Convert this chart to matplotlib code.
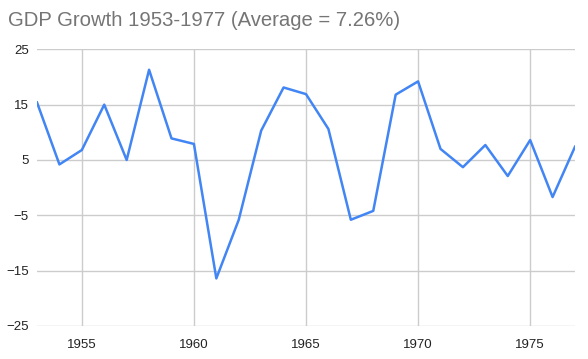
import matplotlib.pyplot as plt

years = list(range(1953, 1978))
growth = [15.4, 4.2, 6.8, 15.0, 5.0, 21.3, 8.9, 7.9, -16.4, -5.8, 10.3, 18.1, 16.9,
          10.6, -5.8, -4.2, 16.8, 19.2, 7.0, 3.7, 7.7, 2.1, 8.6, -1.7, 7.4]
yticks = [-25, -15, -5, 5, 15, 25]
xticks = [1955, 1960, 1965, 1970, 1975]

plt.rcParams['font.family'] = ['Liberation Sans', 'DejaVu Sans']

fig = plt.figure(figsize=(5.88, 3.59), dpi=100)
ax = fig.add_axes([37 / 588, 1 - 326 / 359, (575 - 37) / 588, (326 - 49.3) / 359])

ax.plot(years, growth, color='#4285F4', linewidth=1.8)

ax.set_xlim(1953, 1977)
ax.set_ylim(-25, 25)
ax.set_xticks(xticks)
ax.set_yticks(yticks)
ax.grid(True, color='#cccccc', linewidth=1)
ax.set_axisbelow(True)
for s in ax.spines.values():
    s.set_visible(False)
ax.tick_params(length=0, labelsize=9.5, colors='#222222', pad=6)
ax.tick_params(axis='x', pad=9)

fig.text(8 / 588, 1 - 20 / 359, 'GDP Growth 1953-1977 (Average = 7.26%)',
         fontsize=14.6, color='#757575', va='center', ha='left')

fig.savefig('out.png', dpi=100)
